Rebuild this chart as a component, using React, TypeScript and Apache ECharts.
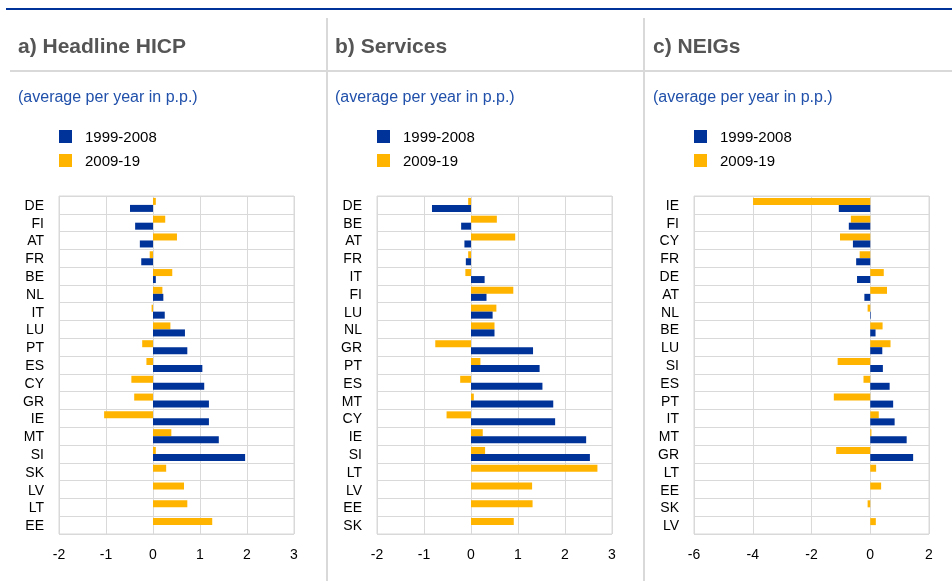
import React, { useEffect, useRef } from "react";
import * as echarts from "echarts";

const SERIES_NAMES = ["1999-2008", "2009-19"];

const catsA = ["DE", "FI", "AT", "FR", "BE", "NL", "IT", "LU", "PT", "ES", "CY", "GR", "IE", "MT", "SI", "SK", "LV", "LT", "EE"];
const earlyA = [-0.49, -0.38, -0.28, -0.25, 0.06, 0.22, 0.25, 0.68, 0.73, 1.05, 1.09, 1.19, 1.19, 1.4, 1.96, null, null, null, null];
const lateA = [0.06, 0.26, 0.51, -0.07, 0.41, 0.2, -0.03, 0.37, -0.23, -0.14, -0.46, -0.4, -1.04, 0.39, 0.06, 0.28, 0.66, 0.73, 1.26];

const catsB = ["DE", "BE", "AT", "FR", "IT", "FI", "LU", "NL", "GR", "PT", "ES", "MT", "CY", "IE", "SI", "LT", "LV", "EE", "SK"];
const earlyB = [-0.83, -0.21, -0.14, -0.11, 0.29, 0.33, 0.46, 0.5, 1.32, 1.46, 1.52, 1.75, 1.79, 2.45, 2.53, null, null, null, null];
const lateB = [-0.06, 0.55, 0.94, -0.06, -0.12, 0.9, 0.54, 0.5, -0.76, 0.2, -0.23, 0.06, -0.52, 0.25, 0.3, 2.69, 1.3, 1.31, 0.91];

const catsC = ["IE", "FI", "CY", "FR", "DE", "AT", "NL", "BE", "LU", "SI", "ES", "PT", "IT", "MT", "GR", "LT", "EE", "SK", "LV"];
const earlyC = [-1.07, -0.73, -0.59, -0.48, -0.45, -0.2, 0.02, 0.18, 0.41, 0.43, 0.66, 0.78, 0.83, 1.24, 1.46, null, null, null, null];
const lateC = [-3.99, -0.66, -1.03, -0.36, 0.46, 0.57, -0.09, 0.42, 0.69, -1.11, -0.23, -1.24, 0.29, 0.04, -1.16, 0.2, 0.37, -0.09, 0.19];

const TITLES = ["a) Headline HICP", "b) Services", "c) NEIGs"];
const SUBTITLE = "(average per year in p.p.)";

const BLUE = "#003399";
const YELLOW = "#FFB400";
const GRIDC = "#d9d9d9";
const FONT = "'Liberation Sans', Arial, sans-serif";

const panels = [
  { cats: catsA, early: earlyA, late: lateA, min: -2, max: 3, interval: 1, left: 59, titleX: 18 },
  { cats: catsB, early: earlyB, late: lateB, min: -2, max: 3, interval: 1, left: 377, titleX: 335 },
  { cats: catsC, early: earlyC, late: lateC, min: -6, max: 2, interval: 2, left: 694, titleX: 653 },
];

export default function App() {
  const ref = useRef<HTMLDivElement>(null);
  useEffect(() => {
    document.body.style.margin = "0";
    const chart = echarts.init(ref.current!, null, { renderer: "svg" });
    const grids: any[] = [];
    const xAxes: any[] = [];
    const yAxes: any[] = [];
    const series: any[] = [];
    const titles: any[] = [];
    const legends: any[] = [];
    panels.forEach((p, i) => {
      grids.push({
        left: p.left,
        width: 235,
        top: 196,
        height: 338,
        show: true,
        borderColor: GRIDC,
        borderWidth: 1,
      });
      xAxes.push({
        type: "value",
        gridIndex: i,
        min: p.min,
        max: p.max,
        interval: p.interval,
        axisLine: { show: false },
        axisTick: { show: false },
        splitLine: { show: true, lineStyle: { color: GRIDC, width: 1 } },
        axisLabel: { fontSize: 14, color: "#000", fontFamily: FONT, margin: 13 },
      });
      yAxes.push({
        type: "category",
        gridIndex: i,
        inverse: true,
        data: p.cats,
        axisLine: { show: false },
        axisTick: { show: false },
        splitLine: { show: true, interval: 0, lineStyle: { color: GRIDC, width: 1 } },
        axisLabel: { interval: 0, fontSize: 14, color: "#000", fontFamily: FONT, margin: 15 },
      });
      series.push({
        name: SERIES_NAMES[1],
        type: "bar",
        xAxisIndex: i,
        yAxisIndex: i,
        data: p.late,
        barWidth: 7,
        barGap: "0%",
        itemStyle: { color: YELLOW },
      });
      series.push({
        name: SERIES_NAMES[0],
        type: "bar",
        xAxisIndex: i,
        yAxisIndex: i,
        data: p.early,
        barWidth: 7,
        barGap: "0%",
        itemStyle: { color: BLUE },
      });
      titles.push({
        text: TITLES[i],
        left: p.titleX,
        top: 35,
        padding: 0,
        textStyle: { fontSize: 21, fontWeight: "bold", color: "#555555", fontFamily: FONT },
      });
      titles.push({
        text: SUBTITLE,
        left: p.titleX,
        top: 88,
        padding: 0,
        textStyle: { fontSize: 16, fontWeight: "normal", color: "#2050aa", fontFamily: FONT },
      });
      legends.push({
        data: [SERIES_NAMES[0], SERIES_NAMES[1]],
        orient: "vertical",
        left: p.left,
        top: 129,
        itemWidth: 13,
        itemHeight: 13,
        itemGap: 9,
        icon: "rect",
        selectedMode: false,
        textStyle: { fontSize: 15, color: "#000", fontFamily: FONT, padding: [0, 0, 0, 8] },
        padding: 0,
      });
    });
    chart.setOption({
      animation: false,
      title: titles,
      legend: legends,
      grid: grids,
      xAxis: xAxes,
      yAxis: yAxes,
      series,
      graphic: [
        { type: "line", shape: { x1: 6, y1: 9, x2: 952, y2: 9 }, style: { stroke: "#003399", lineWidth: 2 } },
        { type: "line", shape: { x1: 10, y1: 71, x2: 952, y2: 71 }, style: { stroke: GRIDC, lineWidth: 2 } },
        { type: "line", shape: { x1: 327, y1: 18, x2: 327, y2: 581 }, style: { stroke: GRIDC, lineWidth: 2 } },
        { type: "line", shape: { x1: 644, y1: 18, x2: 644, y2: 581 }, style: { stroke: GRIDC, lineWidth: 2 } },
      ],
    });
    return () => chart.dispose();
  }, []);
  return <div ref={ref} style={{ position: "fixed", left: 0, top: 0, width: 952, height: 581 }} />;
}
